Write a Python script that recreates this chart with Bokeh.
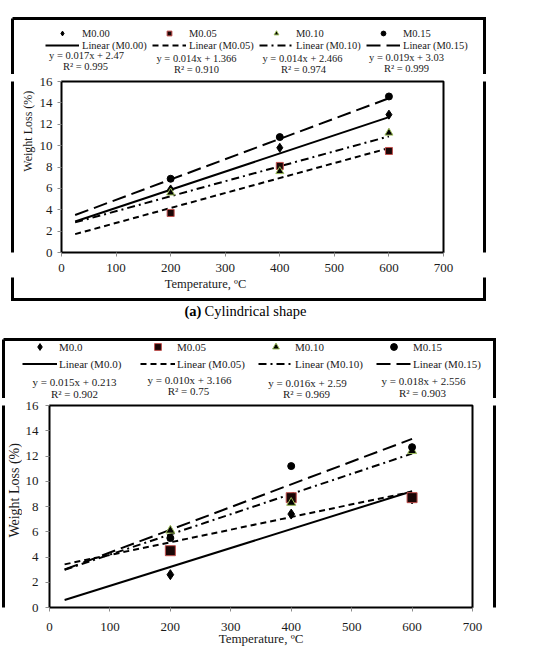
import math

from bokeh.embed import file_html
from bokeh.layouts import column, row
from bokeh.models import FixedTicker, Label, Legend, LegendItem, Range1d
from bokeh.plotting import figure
from bokeh.resources import INLINE

# ---------------------------------------------------------------- data
temps = [200, 400, 600]          # test temperatures, ºC
fit_span = [25, 600]             # extent of the linear trend lines
x_ticks = [0, 100, 200, 300, 400, 500, 600, 700]
y_ticks = [0, 2, 4, 6, 8, 10, 12, 14, 16]

# (a) cylindrical shape
a_names = ["M0.00", "M0.05", "M0.10", "M0.15"]
a_m000 = [5.9, 9.8, 12.9]
a_m005 = [3.7, 8.1, 9.5]
a_m010 = [5.6, 7.6, 11.2]
a_m015 = [6.9, 10.8, 14.6]
a_slopes = [0.017, 0.014, 0.014, 0.019]
a_intercepts = [2.47, 1.366, 2.466, 3.03]
a_r2 = ["0.995", "0.910", "0.974", "0.999"]

# (b) second specimen shape
b_names = ["M0.0", "M0.05", "M0.10", "M0.15"]
b_m00 = [2.6, 7.4, 8.6]
b_m005 = [4.5, 8.7, 8.7]
b_m010 = [6.1, 8.3, 12.4]
b_m015 = [5.5, 11.2, 12.7]
b_slopes = [0.015, 0.010, 0.016, 0.018]
b_intercepts = [0.213, 3.166, 2.59, 2.556]
b_r2 = ["0.902", "0.75", "0.969", "0.903"]

# ---------------------------------------------------------------- styling
SERIF = "Liberation Serif"
INK = "#1a1a1a"
LINE_DASHES = ["solid", "6 4", "8 4 2 4", "14 6"]
MARKERS = [
    dict(marker="diamond", fill_color="black", line_color="black"),
    dict(marker="square", fill_color="#1a0606", line_color="#c0504d"),
    dict(marker="triangle", fill_color="black", line_color="#9bbb59"),
    dict(marker="circle", fill_color="black", line_color="black"),
]
PAGE_W = 541
NO_POINT = [float("nan")]   # legend swatch renderers carry no visible point


def canvas(x0, y0, w, h):
    """A plain drawing surface addressed in page pixels (y grows downward)."""
    p = figure(width=w, height=h,
               x_range=Range1d(x0, x0 + w), y_range=Range1d(y0 + h, y0),
               x_axis_type=None, y_axis_type=None,
               output_backend="svg", toolbar_location=None,
               min_border=0, outline_line_color=None)
    p.border_fill_color = "white"
    p.background_fill_color = "white"
    return p


def box_outline(p, box):
    x0, y0, x1, y1 = box
    p.line([x0, x1, x1, x0, x0], [y0, y0, y1, y1, y0],
           line_color="black", line_width=3, line_join="miter")


def text(p, x, y, s, size, align="center", style="normal", angle=0,
         color=INK):
    p.add_layout(Label(x=x, y=y, text=s, text_font=SERIF,
                       text_font_size=size, text_font_style=style,
                       text_color=color, text_align=align,
                       text_baseline="middle", angle=angle))


def header(x0, y0, w, h, box, names, slopes, intercepts, r2, legend_cfg,
           eq_pos, r2_pos, eq_font):
    """Legend rows, fitted equations and the top of the surrounding box."""
    p = canvas(x0, y0, w, h)
    box_outline(p, box)
    marks = [p.scatter(x=NO_POINT, y=NO_POINT, size=6, line_width=1, **m)
             for m in MARKERS]
    lines = [p.line(x=NO_POINT, y=NO_POINT, line_color="black",
                    line_width=2, line_dash=d) for d in LINE_DASHES]
    items = [LegendItem(label=n, renderers=[r]) for n, r in zip(names, marks)]
    items += [LegendItem(label=f"Linear ({n})", renderers=[r])
              for n, r in zip(names, lines)]
    lx, ltop, row_h, glyph_w, standoff, label_w, lfont = legend_cfg
    p.add_layout(Legend(items=items, orientation="horizontal", ncols=4,
                        location=(lx - x0, (y0 + h) - (ltop + 2 * row_h)),
                        glyph_width=glyph_w, glyph_height=row_h,
                        label_height=row_h, label_width=label_w,
                        label_standoff=standoff, spacing=0, padding=0,
                        margin=0, border_line_color=None,
                        background_fill_alpha=0,
                        label_text_font=SERIF, label_text_font_size=lfont,
                        label_text_color=INK))
    for m, c, r, (ex, ey), (rx, ry) in zip(slopes, intercepts, r2,
                                            eq_pos, r2_pos):
        text(p, ex, ey, f"y = {m:.3f}x + {c}", eq_font)
        text(p, rx, ry, f"R² = {r}", eq_font)
    return p


def data_plot(w, h, borders, series, slopes, intercepts, marker_sizes,
              tick_standoff):
    left, right, top, bottom = borders
    p = figure(width=w, height=h,
               x_range=Range1d(0, 700), y_range=Range1d(0, 16),
               output_backend="svg", toolbar_location=None,
               min_border_left=left, min_border_right=right,
               min_border_top=top, min_border_bottom=bottom)
    p.grid.visible = False
    p.outline_line_color = "black"
    p.outline_line_width = 2
    p.border_fill_color = "white"
    p.xaxis.ticker = FixedTicker(ticks=x_ticks)
    p.yaxis.ticker = FixedTicker(ticks=y_ticks)
    for ax in (p.xaxis, p.yaxis):
        ax.axis_line_color = None
        ax.major_tick_line_color = "#8c8c8c"
        ax.major_tick_in = 0
        ax.major_tick_out = 4
        ax.minor_tick_line_color = None
        ax.major_label_text_font = SERIF
        ax.major_label_text_font_size = "13px"
        ax.major_label_text_color = INK
    p.xaxis.major_label_standoff = tick_standoff[0]
    p.yaxis.major_label_standoff = tick_standoff[1]

    # linear trend lines from the fitted equations
    for m, c, dash in zip(slopes, intercepts, LINE_DASHES):
        p.line(fit_span, [m * x + c for x in fit_span], line_color="black",
               line_width=2, line_dash=dash)
    # measured weight loss
    for vals, style, size in zip(series, MARKERS, marker_sizes):
        p.scatter(temps, vals, size=size, line_width=1, **style)
    return p


# ================================================================ panel (a)
BOX_A = (12, 18, 484, 299)
ha = header(0, 0, PAGE_W, 74, BOX_A, a_names, a_slopes, a_intercepts, a_r2,
            legend_cfg=(45, 27, 12, 34, 3, 70, "10.5px"),
            eq_pos=[(86, 55), (196, 58), (302, 58), (406, 57)],
            r2_pos=[(85, 65.5), (196, 68.5), (303, 68.5), (406, 68)],
            eq_font="10.5px")

la = canvas(0, 74, 36, 203)
box_outline(la, BOX_A)
text(la, 27, 133, "Weight Loss (%)", "12px", angle=math.pi / 2)

da = data_plot(434, 203, (23, 27, 7, 25),
               [a_m000, a_m005, a_m010, a_m015], a_slopes, a_intercepts,
               marker_sizes=[9, 7, 8, 7], tick_standoff=(7, 5))

ra = canvas(470, 74, 71, 203)
box_outline(ra, BOX_A)

fa = canvas(0, 277, PAGE_W, 43)
box_outline(fa, BOX_A)
text(fa, 205, 283, "Temperature, ºC", "12.5px")
text(fa, 184, 310, "(a)", "14.5px", align="left", style="bold",
     color="black")
text(fa, 204, 310, "Cylindrical shape", "14.5px", align="left",
     color="black")

# ================================================================ panel (b)
BOX_B = (3, 339, 494, 720)
hb = header(0, 320, PAGE_W, 78, BOX_B, b_names, b_slopes, b_intercepts,
            b_r2,
            legend_cfg=(22, 338, 17, 35, 2, 81, "11px"),
            eq_pos=[(74, 381), (189, 379), (307, 382), (423, 380)],
            r2_pos=[(74, 393), (188, 390), (306, 393), (422, 392)],
            eq_font="11px")

lb = canvas(0, 398, 22, 250)
box_outline(lb, BOX_B)
text(lb, 14, 503, "Weight Loss (%)", "14px", angle=math.pi / 2)

db = data_plot(468, 250, (25, 18, 7, 41),
               [b_m00, b_m005, b_m010, b_m015], b_slopes, b_intercepts,
               marker_sizes=[10, 10, 9, 7], tick_standoff=(11, 7))
db.xaxis.axis_label = "Temperature, ºC"
db.xaxis.axis_label_text_font = SERIF
db.xaxis.axis_label_text_font_size = "13px"
db.xaxis.axis_label_text_font_style = "normal"
db.xaxis.axis_label_text_color = INK
db.xaxis.axis_label_standoff = -3

rb = canvas(490, 398, 51, 250)
box_outline(rb, BOX_B)

layout = column(
    ha,
    row(la, da, ra, spacing=0),
    fa,
    hb,
    row(lb, db, rb, spacing=0),
    spacing=0,
)
open("out.html", "w").write(file_html(layout, INLINE))
